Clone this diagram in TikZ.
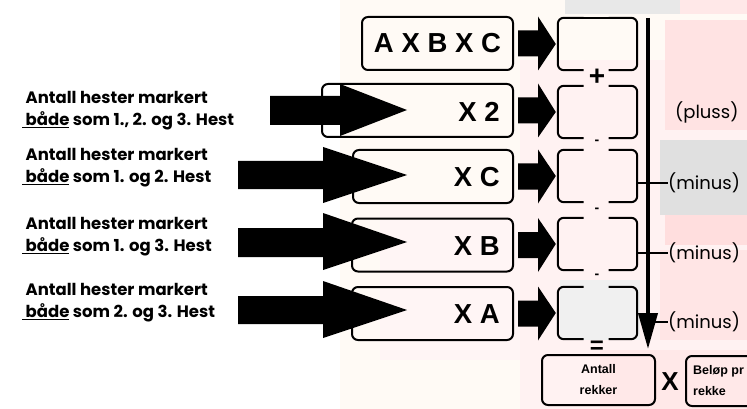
\documentclass[tikz,border=0pt]{standalone}
\usepackage{fontspec}
\setmainfont{Liberation Sans}
\newfontfamily\lblfont{Poppins}
\newfontfamily\boxfont[LetterSpace=28]{Liberation Sans}
\usetikzlibrary{arrows.meta,calc}
\begin{document}
\begin{tikzpicture}[x=1pt,y=-1pt,
  bx/.style={draw=black,line width=2pt,rounded corners=6pt},
  rbox/.style={draw=none,minimum width=79pt,minimum height=52pt,inner sep=0pt},
  lbox/.style={bx,minimum height=53pt,inner sep=0pt},
  boxtxt/.style={font=\boxfont\bfseries\fontsize{27.5}{27.5}\selectfont,inner sep=0pt},
  lefttxt/.style={font=\lblfont\bfseries\fontsize{16.5}{22}\selectfont,align=left,anchor=west,inner sep=0pt},
  optxt/.style={font=\bfseries,inner sep=0pt},
  signtxt/.style={font=\lblfont\fontsize{18}{18}\selectfont,anchor=west,inner sep=0pt},
  fat/.style={fill=black,draw=none},
  smalltxt/.style={font=\bfseries\fontsize{12.5}{21}\selectfont,inner sep=0pt}]
\useasboundingbox (0,0) rectangle (747,409);
% faded background collage
\fill[white] (0,0) rectangle (747,409);
\fill[orange!4] (340,0) rectangle (747,409);
\fill[red!5] (520,60) rectangle (747,409);
\fill[black!9] (565,0) rectangle (680,14);
\fill[red!9] (680,0) rectangle (747,14);
\fill[red!11] (665,20) rectangle (747,130);
\fill[black!12] (660,140) rectangle (747,215);
\fill[red!13] (665,215) rectangle (747,245);
\fill[red!10] (660,250) rectangle (747,340);
\fill[black!6] (560,280) rectangle (640,340);
\fill[red!9] (600,350) rectangle (747,409);
\fill[red!4] (380,200) rectangle (520,360);

% left boxes
\node[lbox,minimum width=151pt] (lb1) at (437.5,43.5) {};
\node[lbox,minimum width=191pt] (lb2) at (417.5,110.5) {};
\node[lbox,minimum width=160pt] (lb3) at (433,176.5) {};
\node[lbox,minimum width=161pt] (lb4) at (432.5,245) {};
\node[lbox,minimum width=161pt] (lb5) at (432.5,313.5) {};
\node[boxtxt] (t1) at ($(lb1.center)+(0,0)$) {AXBXC};
\node[boxtxt,anchor=east] (t2) at ($(lb2.east)+(-14,1)$) {X2};
\node[boxtxt,anchor=east] (t3) at ($(lb3.east)+(-14,1)$) {XC};
\node[boxtxt,anchor=east] (t4) at ($(lb4.east)+(-14,1)$) {XB};
\node[boxtxt,anchor=east] (t5) at ($(lb5.east)+(-14,1)$) {XA};

% left labels
\node[lefttxt] (d2) at (22,111) {\ Antall hester markert\\\underline{\ både} som 1., 2. og 3. Hest};
\node[lefttxt] (d3) at (22,168) {\ Antall hester markert\\\underline{\ både} som 1. og 2. Hest};
\node[lefttxt] (d4) at (22,237) {\ Antall hester markert\\\underline{\ både} som 1. og 3. Hest};
\node[lefttxt] (d5) at (22,303) {\ Antall hester markert\\\underline{\ både} som 2. og 3. Hest};

% big arrows
\fill[fat] (270,96) -- (340,96) -- (340,84) -- (407,110) -- (340,136) -- (340,125) -- (270,125) -- cycle;
\fill[fat] (238,161) -- (323,161) -- (323,147) -- (407,175) -- (323,203) -- (323,189) -- (238,189) -- cycle;
\fill[fat] (238,228) -- (323,228) -- (323,213) -- (407,242) -- (323,270) -- (323,257) -- (238,257) -- cycle;
\fill[fat] (238,296) -- (323,296) -- (323,281) -- (407,310) -- (323,338) -- (323,324) -- (238,324) -- cycle;

% right boxes
\foreach \n/\y in {1/44,2/112,3/176,4/244,5/313}{
  \node[rbox] (r\n) at (597.5,\y) {};
  \draw[bx] ($(r\n.north)+(-14,0)$) -- (r\n.north west) -- (r\n.south west) -- ($(r\n.south)+(-14,0)$);
  \draw[bx] ($(r\n.south)+(11,0)$) -- (r\n.south east) -- (r\n.north east) -- ($(r\n.north)+(11,0)$);
}
\draw[line width=2pt] ($(r1.north)+(-15,0)$) -- ($(r1.north)+(12,0)$);

% small arrows
\foreach \n in {1,...,5}{
  \fill[fat] ($(lb\n.east)+(4,-13)$) -- ($(lb\n.east)+(24,-13)$) -- ($(lb\n.east)+(24,-27)$)
     -- ($(r\n.west)+(-2,0)$) -- ($(lb\n.east)+(24,27)$) -- ($(lb\n.east)+(24,13)$) -- ($(lb\n.east)+(4,13)$) -- cycle;
}

% operators
\node[optxt,font=\bfseries\fontsize{28}{28}\selectfont] (op1) at (597,77) {+};
\node[optxt,font=\bfseries\fontsize{14}{14}\selectfont] (op2) at (597,142) {-};
\node[optxt,font=\bfseries\fontsize{14}{14}\selectfont] (op3) at (597,210) {-};
\node[optxt,font=\bfseries\fontsize{14}{14}\selectfont] (op4) at (597,276) {-};
\node[optxt,font=\bfseries\fontsize{24}{24}\selectfont] (op5) at (597,347) {=};

% vertical arrow
\coordinate (vtop) at (648,18);
\coordinate (vbot) at (648,349);
\draw[line width=4pt,-{Triangle[length=36pt,width=19pt]}] (vtop) -- (vbot);

% sign labels
\node[signtxt] (s1) at (675,112) {(pluss)};
\node[signtxt] (s2) at (668,183) {(minus)};
\node[signtxt] (s3) at (668,253) {(minus)};
\node[signtxt] (s4) at (668,322) {(minus)};
\coordinate (k2) at (637,183);
\coordinate (k3) at (637,253);
\coordinate (k4) at (655,322);
\draw[line width=1.6pt] (k2) -- (s2.west);
\draw[line width=1.6pt] (k3) -- (s3.west);
\draw[line width=1.6pt] (k4) -- (s4.west);

% bottom boxes
\node[bx,minimum width=113pt,minimum height=50pt,inner sep=0pt] (ant) at (598.5,380) {};
\node[smalltxt,align=center] (antt) at (ant.center) {Antall\\rekker};
\node[optxt,font=\bfseries\fontsize{26}{26}\selectfont] (mul) at (670,382) {X};
\node[bx,minimum width=90pt,minimum height=50pt,inner sep=0pt,anchor=west] (bel) at (685,381) {};
\node[smalltxt,align=left,anchor=west] (belt) at ($(bel.west)+(8,0)$) {Beløp pr\\rekke};
\end{tikzpicture}
\end{document}
